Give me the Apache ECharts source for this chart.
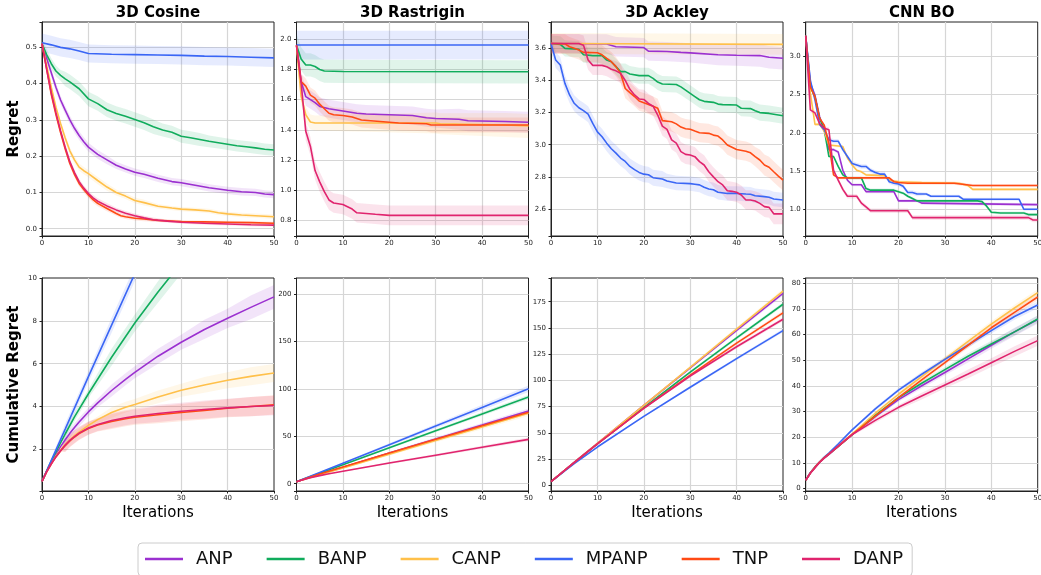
<!DOCTYPE html>
<html><head><meta charset="utf-8">
<script src="https://cdn.jsdelivr.net/npm/echarts@6/dist/echarts.min.js"></script>
<style>html,body{margin:0;padding:0;background:#fff}#c{width:1041px;height:575px}</style>
</head><body><div id="c"></div><script>
const methods = ['ANP','BANP','CANP','MPANP','TNP','DANP'];
const colors = ['#9b30d0','#10ac5c','#ffc04a','#3a66f5','#ff4a14','#e0246e'];
const panelTitles = ['3D Cosine','3D Rastrigin','3D Ackley','CNN BO'];
const rowLabels = ['Regret','Cumulative Regret'];
const xLabel = 'Iterations';
const sdX = [0,10,20,30,40,50];

// ---- Regret (top row), [iteration, mean] per method: ANP, BANP, CANP, MPANP, TNP, DANP
const cosineMean = [
 [[0,0.51],[1,0.47],[2,0.43],[3,0.39],[4,0.355],[5,0.327],[6,0.30],[7,0.277],[8,0.257],[9,0.24],[10,0.225],[12,0.205],[14,0.19],[16,0.175],[18,0.165],[20,0.156],[22,0.15],[25,0.139],[28,0.13],[30,0.127],[33,0.12],[36,0.113],[40,0.106],[43,0.102],[46,0.1],[48,0.096],[50,0.094]],
 [[0,0.51],[1,0.48],[2,0.455],[3,0.435],[4,0.423],[5,0.413],[6,0.405],[8,0.386],[10,0.358],[12,0.345],[14,0.328],[16,0.318],[18,0.31],[20,0.301],[22,0.292],[24,0.281],[26,0.272],[28,0.266],[30,0.255],[32,0.251],[34,0.246],[36,0.241],[38,0.237],[40,0.233],[42,0.229],[44,0.226],[46,0.223],[48,0.219],[50,0.217]],
 [[0,0.51],[1,0.45],[2,0.39],[3,0.335],[4,0.29],[5,0.25],[6,0.215],[7,0.19],[8,0.17],[9,0.16],[10,0.152],[12,0.133],[14,0.115],[16,0.1],[18,0.09],[20,0.078],[22,0.072],[25,0.062],[28,0.057],[30,0.054],[33,0.052],[36,0.049],[38,0.044],[40,0.041],[43,0.038],[46,0.036],[50,0.033]],
 [[0,0.513],[2,0.507],[4,0.5],[6,0.496],[8,0.49],[10,0.483],[15,0.481],[20,0.48],[25,0.479],[30,0.478],[35,0.476],[40,0.475],[45,0.473],[50,0.471]],
 [[0,0.51],[1,0.44],[2,0.37],[3,0.315],[4,0.265],[5,0.22],[6,0.18],[7,0.15],[8,0.125],[9,0.108],[10,0.093],[11,0.08],[12,0.07],[14,0.056],[16,0.042],[17,0.036],[18,0.033],[20,0.029],[22,0.027],[25,0.023],[30,0.02],[35,0.019],[40,0.018],[45,0.017],[50,0.015]],
 [[0,0.51],[1,0.44],[2,0.375],[3,0.32],[4,0.27],[5,0.225],[6,0.185],[7,0.155],[8,0.13],[9,0.112],[10,0.097],[11,0.085],[12,0.076],[14,0.063],[16,0.052],[18,0.043],[20,0.036],[22,0.03],[24,0.025],[27,0.021],[30,0.018],[35,0.015],[40,0.013],[45,0.011],[50,0.01]]
];
const cosineSd = [
 [0.012,0.012,0.01,0.01,0.01,0.01],
 [0.015,0.02,0.02,0.018,0.016,0.016],
 [0.008,0.01,0.008,0.006,0.006,0.006],
 [0.025,0.025,0.025,0.025,0.025,0.025],
 [0.006,0.008,0.006,0.004,0.004,0.004],
 [0.006,0.008,0.006,0.004,0.004,0.004]
];

const rastriginMean = [
 [[0,1.96],[1,1.72],[2,1.62],[3,1.60],[4,1.58],[5,1.555],[7,1.54],[10,1.525],[13,1.51],[15,1.505],[20,1.50],[25,1.495],[28,1.48],[30,1.475],[35,1.47],[37,1.46],[45,1.455],[50,1.45]],
 [[0,1.96],[1,1.87],[2,1.83],[3,1.83],[4,1.82],[5,1.80],[6,1.79],[10,1.787],[50,1.785]],
 [[0,1.96],[1,1.62],[2,1.50],[3,1.452],[4,1.445],[30,1.445],[31,1.44],[45,1.432],[50,1.425]],
 [[0,1.962],[50,1.962]],
 [[0,1.96],[1,1.72],[2,1.69],[3,1.63],[4,1.61],[5,1.57],[6,1.54],[7,1.51],[8,1.50],[10,1.495],[12,1.485],[14,1.465],[18,1.455],[20,1.45],[22,1.445],[28,1.44],[29,1.432],[50,1.432]],
 [[0,1.96],[1,1.71],[2,1.39],[3,1.29],[4,1.13],[5,1.055],[6,0.99],[7,0.935],[8,0.915],[10,0.905],[11,0.89],[12,0.875],[13,0.85],[15,0.845],[17,0.84],[20,0.833],[50,0.833]]
];
const rastriginSd = [
 [0.06,0.06,0.06,0.06,0.07,0.07],
 [0.077,0.077,0.077,0.077,0.077,0.077],
 [0.05,0.06,0.06,0.07,0.08,0.08],
 [0.095,0.095,0.095,0.095,0.095,0.095],
 [0.05,0.05,0.05,0.05,0.05,0.05],
 [0.06,0.065,0.065,0.065,0.065,0.065]
];

const ackleyMean = [
 [[0,3.63],[12,3.627],[14,3.61],[20,3.605],[21,3.583],[25,3.58],[28,3.575],[30,3.572],[36,3.56],[40,3.557],[45,3.555],[47,3.545],[50,3.538]],
 [[0,3.63],[2,3.625],[3,3.6],[6,3.594],[7,3.56],[9,3.555],[11,3.555],[12,3.527],[13,3.517],[14,3.486],[15,3.455],[16,3.455],[17,3.44],[19,3.43],[21,3.43],[22,3.413],[23,3.39],[24,3.378],[27,3.375],[28,3.36],[29,3.34],[30,3.32],[31,3.30],[32,3.28],[33,3.27],[35,3.264],[36,3.253],[37,3.25],[40,3.247],[41,3.227],[43,3.225],[44,3.212],[45,3.2],[47,3.195],[48,3.19],[50,3.18]],
 [[0,3.63],[50,3.625]],
 [[0,3.63],[1,3.527],[2,3.496],[3,3.382],[4,3.31],[5,3.258],[6,3.23],[7,3.212],[8,3.19],[9,3.133],[10,3.08],[11,3.05],[12,3.01],[13,2.975],[14,2.948],[15,2.917],[16,2.896],[17,2.865],[18,2.845],[19,2.828],[20,2.817],[21,2.813],[22,2.795],[24,2.787],[25,2.774],[26,2.768],[27,2.762],[30,2.758],[31,2.754],[32,2.75],[33,2.735],[34,2.725],[35,2.72],[36,2.704],[38,2.697],[40,2.697],[42,2.693],[43,2.692],[44,2.683],[46,2.677],[47,2.673],[48,2.662],[50,2.656]],
 [[0,3.63],[3,3.628],[4,3.61],[5,3.6],[6,3.59],[7,3.575],[10,3.573],[11,3.56],[12,3.538],[13,3.517],[14,3.486],[15,3.444],[16,3.35],[17,3.324],[18,3.30],[19,3.272],[20,3.262],[21,3.251],[22,3.24],[23,3.227],[24,3.15],[26,3.143],[27,3.13],[28,3.11],[29,3.10],[30,3.096],[31,3.085],[32,3.075],[34,3.071],[35,3.06],[36,3.054],[37,3.03],[38,2.998],[39,2.984],[40,2.97],[42,2.96],[43,2.95],[44,2.926],[45,2.905],[46,2.874],[47,2.86],[48,2.832],[49,2.805],[50,2.78]],
 [[0,3.63],[6,3.63],[7,3.62],[8,3.527],[9,3.494],[11,3.494],[12,3.486],[13,3.47],[14,3.46],[15,3.444],[16,3.40],[17,3.345],[18,3.31],[19,3.285],[20,3.282],[21,3.257],[22,3.24],[23,3.185],[24,3.116],[25,3.096],[26,3.03],[27,3.01],[28,2.957],[29,2.94],[30,2.936],[31,2.926],[32,2.895],[33,2.874],[34,2.832],[35,2.8],[36,2.77],[37,2.75],[38,2.714],[39,2.71],[40,2.704],[41,2.687],[42,2.656],[43,2.656],[44,2.65],[45,2.635],[46,2.615],[47,2.61],[48,2.57],[50,2.57]]
];
const ackleySd = [
 [0.06,0.06,0.06,0.06,0.065,0.07],
 [0.05,0.05,0.05,0.05,0.05,0.05],
 [0.065,0.065,0.065,0.065,0.065,0.065],
 [0.05,0.05,0.05,0.045,0.045,0.045],
 [0.06,0.06,0.06,0.06,0.06,0.065],
 [0.06,0.06,0.06,0.06,0.06,0.065]
];

const cnnMean = [
 [[0,3.27],[1,2.65],[2,2.49],[3,2.21],[4,2.04],[5,1.78],[6,1.78],[7,1.75],[8,1.51],[9,1.38],[10,1.32],[12,1.32],[13,1.23],[19,1.23],[20,1.11],[24,1.11],[25,1.08],[50,1.06]],
 [[0,3.27],[1,2.60],[2,2.47],[3,2.19],[4,2.04],[5,1.69],[6,1.69],[7,1.56],[8,1.45],[9,1.41],[12,1.41],[13,1.27],[14,1.25],[19,1.25],[20,1.23],[21,1.21],[22,1.17],[23,1.14],[24,1.11],[37,1.11],[38,1.10],[39,1.04],[40,0.96],[42,0.95],[47,0.95],[48,0.93],[50,0.93]],
 [[0,3.27],[1,2.52],[2,2.11],[3,2.11],[4,2.02],[5,1.84],[8,1.82],[9,1.67],[10,1.58],[11,1.51],[12,1.49],[13,1.45],[17,1.44],[18,1.38],[20,1.36],[25,1.35],[33,1.34],[35,1.31],[36,1.26],[50,1.26]],
 [[0,3.27],[1,2.69],[2,2.43],[3,2.11],[4,2.04],[5,1.91],[6,1.89],[7,1.89],[8,1.78],[9,1.69],[10,1.60],[11,1.58],[12,1.56],[13,1.56],[14,1.51],[15,1.48],[16,1.46],[17,1.46],[18,1.36],[19,1.34],[20,1.33],[21,1.30],[22,1.22],[23,1.22],[24,1.20],[26,1.20],[27,1.17],[33,1.17],[34,1.13],[46,1.13],[47,1.0],[50,1.0]],
 [[0,3.27],[1,2.60],[2,2.47],[3,2.19],[4,2.10],[5,1.86],[6,1.45],[7,1.41],[18,1.41],[19,1.36],[20,1.35],[22,1.34],[32,1.34],[36,1.31],[50,1.31]],
 [[0,3.27],[1,2.30],[2,2.26],[3,2.12],[4,2.06],[5,2.04],[6,1.51],[7,1.38],[8,1.26],[9,1.17],[11,1.17],[12,1.08],[13,1.03],[14,0.98],[22,0.98],[23,0.89],[48,0.89],[49,0.86],[50,0.86]]
];
const cnnSd = [
 [0.02,0.02,0.02,0.02,0.02,0.02],
 [0.02,0.02,0.02,0.02,0.02,0.02],
 [0.02,0.02,0.02,0.02,0.02,0.02],
 [0.02,0.03,0.03,0.02,0.02,0.02],
 [0.02,0.02,0.02,0.02,0.02,0.02],
 [0.03,0.03,0.03,0.03,0.03,0.03]
];

// ---- Cumulative regret (bottom row)
const cosineCum = [
 [[0,0.51],[1,0.98],[2,1.4],[3,1.78],[4,2.13],[5,2.45],[6,2.75],[7,3.02],[8,3.28],[10,3.75],[12,4.17],[15,4.75],[18,5.27],[20,5.6],[25,6.35],[30,7.0],[35,7.6],[40,8.12],[45,8.63],[50,9.12]],
 [[0,0.51],[1,0.99],[2,1.45],[3,1.88],[4,2.31],[5,2.72],[7,3.52],[10,4.6],[15,6.3],[20,7.9],[25,9.35],[30,10.7]],
 [[0,0.51],[1,0.96],[2,1.35],[3,1.69],[4,1.98],[5,2.23],[6,2.45],[7,2.64],[8,2.81],[10,3.12],[12,3.39],[15,3.72],[18,3.97],[20,4.1],[25,4.45],[30,4.76],[35,5.01],[40,5.23],[45,5.41],[50,5.57]],
 [[0,0.51],[5,2.95],[10,5.4],[15,7.8],[20,10.2],[25,12.6]],
 [[0,0.51],[1,0.95],[2,1.32],[3,1.65],[4,1.93],[5,2.18],[6,2.4],[7,2.58],[8,2.74],[10,2.98],[12,3.14],[15,3.3],[18,3.43],[20,3.5],[25,3.62],[30,3.72],[35,3.82],[40,3.92],[45,4.0],[50,4.08]],
 [[0,0.51],[1,0.95],[2,1.33],[3,1.66],[4,1.94],[5,2.2],[6,2.42],[7,2.6],[8,2.76],[10,3.0],[12,3.16],[15,3.35],[18,3.48],[20,3.55],[25,3.68],[30,3.78],[35,3.86],[40,3.94],[45,4.0],[50,4.05]]
];
const cosineCumSd = [
 [0.02,0.2,0.28,0.35,0.45,0.55],
 [0.02,0.2,0.4,0.5,0.55,0.6],
 [0.02,0.15,0.25,0.3,0.37,0.42],
 [0.02,0.25,0.35,0.45,0.5,0.55],
 [0.02,0.3,0.35,0.4,0.42,0.45],
 [0.02,0.3,0.35,0.4,0.42,0.45]
];

const rastriginCum = [
 [[0,1.96],[1,3.68],[2,5.3],[5,10.03],[10,17.23],[20,32.3],[30,47.2],[40,61.9],[50,76.8]],
 [[0,1.96],[1,3.83],[2,5.66],[5,11.11],[10,20.06],[20,37.93],[30,55.8],[40,73.65],[50,91.5]],
 [[0,1.96],[1,3.58],[2,5.08],[5,9.42],[10,16.65],[20,31.1],[30,45.55],[40,59.95],[50,74.3]],
 [[0,1.96],[10,21.58],[20,41.2],[30,60.8],[40,80.4],[50,100.1]],
 [[0,1.96],[1,3.68],[2,5.37],[5,10.18],[10,17.72],[20,32.4],[30,46.8],[40,61.1],[50,75.4]],
 [[0,1.96],[1,3.67],[2,5.06],[3,6.35],[5,8.54],[7,10.47],[10,13.19],[20,21.8],[30,30.1],[40,38.45],[50,46.8]]
];
const rastriginCumSd = [
 [0.1,0.7,1.2,1.7,2.2,2.6],
 [0.1,0.7,1.2,1.6,2.0,2.4],
 [0.1,0.8,1.4,1.9,2.4,2.8],
 [0.1,0.9,1.6,2.2,2.8,3.4],
 [0.1,0.6,1.0,1.4,1.8,2.2],
 [0.1,0.6,1.0,1.3,1.6,1.9]
];

const ackleyCum = [
 [[0,3.63],[5,21.8],[10,39.9],[20,76.1],[30,112],[40,147.7],[50,183]],
 [[0,3.63],[5,21.6],[10,39.5],[20,74.1],[30,107.9],[40,140.5],[50,172.6]],
 [[0,3.63],[5,21.8],[10,39.9],[20,76.2],[30,112.5],[40,148.8],[50,185]],
 [[0,3.63],[5,20.6],[10,36.5],[20,65.7],[30,93.5],[40,120.7],[50,147.5]],
 [[0,3.63],[5,21.7],[10,39.6],[20,73.6],[30,105.1],[40,135.5],[50,164.3]],
 [[0,3.63],[5,21.8],[10,39.5],[20,73.4],[30,104.2],[40,132.1],[50,158.3]]
];
const ackleyCumSd = [
 [0.1,0.5,0.9,1.3,1.7,2.0],
 [0.1,0.5,0.9,1.3,1.7,2.0],
 [0.1,0.6,1.0,1.5,1.9,2.3],
 [0.1,0.5,0.8,1.1,1.4,1.7],
 [0.1,0.5,0.9,1.3,1.7,2.0],
 [0.1,0.5,0.9,1.3,1.7,2.0]
];

const cnnCum = [
 [[0,3.2],[1,6.0],[2,8.3],[3,10.2],[4,11.9],[5,13.4],[7,16.4],[10,21.0],[15,28.0],[20,34.6],[25,40.0],[30,45.2],[35,50.5],[40,55.8],[45,61.0],[50,65.8]],
 [[0,3.2],[1,6.0],[2,8.3],[3,10.2],[4,11.9],[5,13.4],[7,16.4],[10,21.0],[15,28.5],[20,35.4],[25,41.0],[30,46.3],[35,51.5],[40,56.3],[45,61.0],[50,66.0]],
 [[0,3.2],[1,6.0],[2,8.3],[3,10.3],[4,12.0],[5,13.5],[7,16.6],[10,21.2],[15,29.3],[20,36.7],[25,43.6],[30,50.5],[35,57.3],[40,64.0],[45,70.3],[50,76.3]],
 [[0,3.2],[1,6.1],[2,8.4],[3,10.4],[4,12.2],[5,13.8],[7,17.3],[10,22.8],[15,31.0],[20,38.3],[25,44.5],[30,50.3],[35,55.9],[40,61.5],[45,67.0],[50,71.5]],
 [[0,3.2],[1,6.0],[2,8.3],[3,10.3],[4,12.0],[5,13.5],[7,16.4],[10,21.0],[15,28.2],[20,35.4],[25,42.3],[30,49.0],[35,55.8],[40,62.6],[45,68.6],[50,74.6]],
 [[0,3.2],[1,5.9],[2,8.0],[3,10.1],[4,11.8],[5,13.3],[7,16.5],[10,21.0],[15,26.5],[20,31.6],[25,36.0],[30,40.3],[35,44.6],[40,49.0],[45,53.4],[50,57.6]]
];
const cnnCumSd = [
 [0.1,0.5,0.8,1.1,1.4,1.6],
 [0.1,0.5,0.7,1.0,1.2,1.4],
 [0.1,0.5,0.7,0.9,1.1,1.3],
 [0.1,0.5,0.7,0.9,1.1,1.3],
 [0.1,0.5,0.7,0.9,1.1,1.3],
 [0.1,0.6,0.9,1.3,1.7,2.0]
];

// axis ranges / tick steps per panel
const yMin  = [-0.02, 0.696, 2.432, 0.65, 0.06, -7.7, -5.4, -1];
const yMax  = [0.57, 2.115, 3.764, 3.45, 10, 217, 197.6, 82];
const yStep = [0.1, 0.2, 0.2, 0.5, 2, 50, 25, 10];
const yDec  = [1, 1, 1, 1, 0, 0, 0, 0];

const panelMeans = [cosineMean, rastriginMean, ackleyMean, cnnMean, cosineCum, rastriginCum, ackleyCum, cnnCum];
const panelSds = [cosineSd, rastriginSd, ackleySd, cnnSd, cosineCumSd, rastriginCumSd, ackleyCumSd, cnnCumSd];

// layout
const colLeft = [42, 296.5, 551, 805.7];
const plotW = 232;
const rowTop = [22, 278];
const rowH = [214, 213];
const FONT = 'DejaVu Sans';

function rgba(hex, a) {
  const n = parseInt(hex.slice(1), 16);
  return 'rgba(' + ((n >> 16) & 255) + ',' + ((n >> 8) & 255) + ',' + (n & 255) + ',' + a + ')';
}
function sdAt(arr, x) { return arr[Math.round(x / 10)]; }

const grids = [], xAxes = [], yAxes = [], series = [], graphics = [];
for (let p = 0; p < 8; p++) {
  const col = p % 4, row = Math.floor(p / 4);
  grids.push({left: colLeft[col], top: rowTop[row], width: plotW, height: rowH[row],
    show: true, borderColor: '#222', borderWidth: 1, containLabel: false, outerBoundsMode: 'none'});
  xAxes.push({type: 'value', gridIndex: p, min: 0, max: 50, interval: 10,
    axisLine: {show: true, onZero: false, lineStyle: {color: '#222', width: 1}},
    axisTick: {show: true, length: 2.5, lineStyle: {color: '#222'}},
    axisLabel: {fontSize: 7, color: '#222', margin: 4, fontFamily: FONT},
    splitLine: {show: true, showMinLine: false, showMaxLine: false, lineStyle: {color: '#d6d6d6', width: 1.2}}});
  const step = yStep[p], dec = yDec[p];
  yAxes.push({type: 'value', gridIndex: p, min: yMin[p], max: yMax[p],
    minInterval: step, maxInterval: step, splitNumber: 5,
    axisLine: {show: true, onZero: false, lineStyle: {color: '#222', width: 1}},
    axisTick: {show: true, length: 2.5, lineStyle: {color: '#222'}},
    axisLabel: {fontSize: 7, color: '#222', margin: 5, fontFamily: FONT,
      formatter: function (v) { const k = v / step; if (Math.abs(k - Math.round(k)) > 1e-6) return ''; return v.toFixed(dec); }},
    splitLine: {show: true, showMinLine: false, showMaxLine: false, lineStyle: {color: '#d6d6d6', width: 1.2}}});
  const means = panelMeans[p], sds = panelSds[p];
  for (let s = 0; s < 6; s++) {
    const pts = means[s], sd = sds[s], color = colors[s];
    series.push({type: 'custom', name: methods[s] + ' band ' + p, xAxisIndex: p, yAxisIndex: p,
      data: [[pts[0][0], pts[0][1]]], silent: true, z: 2,
      renderItem: function (params, api) {
        const poly = [];
        for (let i = 0; i < pts.length; i++) poly.push(api.coord([pts[i][0], pts[i][1] + sdAt(sd, pts[i][0])]));
        for (let i = pts.length - 1; i >= 0; i--) poly.push(api.coord([pts[i][0], pts[i][1] - sdAt(sd, pts[i][0])]));
        const cs = params.coordSys;
        return {type: 'polygon', shape: {points: poly}, style: {fill: rgba(color, 0.13)},
          clipPath: {type: 'rect', shape: {x: cs.x, y: cs.y, width: cs.width, height: cs.height}}};
      }});
  }
  for (let s = 0; s < 6; s++) {
    series.push({type: 'line', name: methods[s], xAxisIndex: p, yAxisIndex: p, data: means[s],
      showSymbol: false, symbol: 'none', smooth: false,
      lineStyle: {width: 1.6, color: colors[s]}, itemStyle: {color: colors[s]}, z: 3, clip: true,
      emphasis: {disabled: true}});
  }
}
for (let c = 0; c < 4; c++) {
  const cx = colLeft[c] + plotW / 2;
  graphics.push({type: 'text', x: cx, y: 13, style: {text: panelTitles[c], font: 'bold 15px "' + FONT + '"', fill: '#000', align: 'center', verticalAlign: 'middle'}});
  graphics.push({type: 'text', x: cx, y: 513, style: {text: xLabel, font: '15px "' + FONT + '"', fill: '#000', align: 'center', verticalAlign: 'middle'}});
}
graphics.push({type: 'text', x: 14, y: rowTop[0] + rowH[0] / 2, rotation: Math.PI / 2, style: {text: rowLabels[0], font: 'bold 15px "' + FONT + '"', fill: '#000', align: 'center', verticalAlign: 'middle'}});
graphics.push({type: 'text', x: 14, y: rowTop[1] + rowH[1] / 2, rotation: Math.PI / 2, style: {text: rowLabels[1], font: 'bold 15px "' + FONT + '"', fill: '#000', align: 'center', verticalAlign: 'middle'}});

const chart = echarts.init(document.getElementById('c'), null, {renderer: 'canvas'});
chart.setOption({
  animation: false,
  backgroundColor: '#fff',
  textStyle: {fontFamily: FONT},
  grid: grids, xAxis: xAxes, yAxis: yAxes, series: series, graphic: graphics,
  legend: {data: methods, left: 138, top: 543, orient: 'horizontal', icon: 'rect',
    itemWidth: 38, itemHeight: 2.5, itemGap: 34,
    textStyle: {fontSize: 18, fontFamily: FONT, color: '#111', padding: [0, 0, 0, 8]},
    borderColor: '#cccccc', borderWidth: 1, borderRadius: 4, padding: [7, 9, 8, 7], backgroundColor: '#fff',
    selectedMode: false}
});
</script></body></html>
